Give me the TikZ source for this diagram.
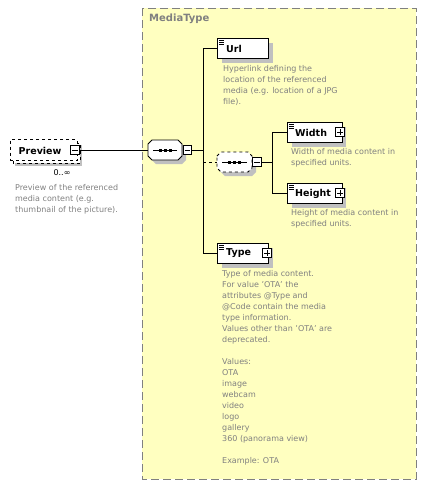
\documentclass[tikz,border=0pt]{standalone}
\usepackage{fontspec}
\setmainfont{DejaVu Sans}
\definecolor{boxyellow}{HTML}{FFFFC0}
\definecolor{boxborder}{HTML}{808080}
\definecolor{desccol}{HTML}{808080}
\definecolor{shadowc}{HTML}{C0C0C0}
\begin{document}
\begin{tikzpicture}[x=1pt,y=-1pt,
  elem/.style={draw=black, fill=white, minimum height=20pt, inner sep=0pt, line width=0.8pt},
  title/.style={font=\fontsize{9.5}{11}\selectfont\bfseries, text=black, inner sep=0pt, anchor=west},
  desc/.style={font=\fontsize{8}{11}\selectfont, text=desccol, align=left, anchor=north west, inner sep=0pt},
  pmbox/.style={draw=black, fill=white, minimum size=8.5pt, inner sep=0pt, line width=0.6pt},
  plusbox/.style={pmbox, path picture={
      \draw[line width=0.6pt] ([xshift=1.5pt]path picture bounding box.west) -- ([xshift=-1.5pt]path picture bounding box.east);
      \draw[line width=0.6pt] ([yshift=-1.5pt]path picture bounding box.north) -- ([yshift=1.5pt]path picture bounding box.south);}},
  minusbox/.style={pmbox, path picture={
      \draw[line width=0.6pt] ([xshift=1.5pt]path picture bounding box.west) -- ([xshift=-1.5pt]path picture bounding box.east);}},
  conn/.style={draw=black, line width=0.8pt},
  shad/.style={fill=shadowc},
  icon/.style={draw=black, line width=0.45pt}
]
\useasboundingbox (0,0) rectangle (427,485);

% MediaType complex type box
\draw[fill=boxyellow, draw=boxborder, line width=0.9pt, dash pattern=on 8pt off 4pt] (142,8) rectangle (416,479);
\node[font=\fontsize{10}{12}\selectfont\bfseries, text=boxborder, anchor=west, inner sep=0pt] (mtlabel) at (149,18.5) {MediaType};

% Preview element
\fill[shad] (15,145) rectangle (82,166);
\draw[black, line width=0.6pt, dashed, fill=white] (13,143) rectangle (80,163);
\node[elem, dashed, minimum width=67pt, minimum height=21pt, line width=0.6pt] (preview) at (43.5,150) {};
\node[title] (previewt) at (18.5,150.5) {Preview};
\node[minusbox] (pminus) at (75,150) {};
\node[font=\fontsize{8}{9}\selectfont, text=black, inner sep=0pt] (pocc) at (62,173) {0..∞};
\node[desc] (pdesc) at (15,184) {Preview of the referenced\\media content (e.g.\\thumbnail of the picture).};

% Sequence 1
\fill[shad] (152,148) -- (156,144) -- (182,144) -- (186,148) -- (186,160) -- (182,164) -- (156,164) -- (152,160) -- cycle;
\draw[fill=white, line width=0.8pt] (148,144) -- (152,140) -- (178,140) -- (182,144) -- (182,156) -- (178,160) -- (152,160) -- (148,156) -- cycle;
\node[inner sep=0pt, minimum width=34pt, minimum height=20pt] (seq1) at (165,150) {};
\draw[line width=0.6pt] (153,150) -- (177,150);
\foreach \xx in {160,165,170} \fill (\xx-1.5,148.5) rectangle (\xx+1.5,151.5);
\node[minusbox] (s1minus) at (187.5,150) {};

% Sequence 2 (optional)
\fill[shad] (221,160) -- (225,156) -- (252,156) -- (256,160) -- (256,172) -- (252,176) -- (225,176) -- (221,172) -- cycle;
\draw[fill=white, line width=0.8pt, dashed] (217,156) -- (221,152) -- (248,152) -- (252,156) -- (252,168) -- (248,172) -- (221,172) -- (217,168) -- cycle;
\node[inner sep=0pt, minimum width=35pt, minimum height=20pt] (seq2) at (234.5,162) {};
\draw[line width=0.6pt] (222,162) -- (247,162);
\foreach \xx in {229,234,239} \fill (\xx-1.5,160.5) rectangle (\xx+1.5,163.5);
\node[minusbox] (s2minus) at (257,162) {};

% Url
\fill[shad] (222,43) rectangle (273,63);
\node[elem, minimum width=51pt] (url) at (242.5,48) {};
\node[title] (urlt) at (226,48.5) {Url};
\draw[icon] (219,40) -- (224,40) (219,42) -- (224,42) (219,44) -- (224,44);
\node[desc] (urldesc) at (223,65) {Hyperlink defining the\\location of the referenced\\media (e.g. location of a JPG\\file).};

% Width
\fill[shad] (292,127) rectangle (346,147);
\node[elem, minimum width=55pt] (width) at (314.5,132) {};
\node[title] (widtht) at (295,132.5) {Width};
\draw[icon] (289,124) -- (294,124) (289,126) -- (294,126) (289,128) -- (294,128);
\node[plusbox] (wplus) at (340,132) {};
\node[desc] (wdesc) at (291,148) {Width of media content in\\specified units.};

% Height
\fill[shad] (292,188) rectangle (346,208);
\node[elem, minimum width=55pt] (height) at (314.5,193) {};
\node[title] (heightt) at (295,193.5) {Height};
\draw[icon] (289,185) -- (294,185) (289,187) -- (294,187) (289,189) -- (294,189);
\node[plusbox] (hplus) at (340,193) {};
\node[desc] (hdesc) at (291,209) {Height of media content in\\specified units.};

% Type
\fill[shad] (222,248) rectangle (273,268);
\node[elem, minimum width=51pt] (type) at (242.5,253) {};
\node[title] (typet) at (226,253.5) {Type};
\draw[icon] (219,245) -- (224,245) (219,247) -- (224,247) (219,249) -- (224,249);
\node[plusbox] (tplus) at (267,253) {};
\node[desc] (tdesc) at (222,270) {Type of media content.\\For value 'OTA' the\\attributes @Type and\\@Code contain the media\\type information.\\Values other than 'OTA' are\\deprecated.\\[11pt]Values:\\OTA\\image\\webcam\\video\\logo\\gallery\\360 (panorama view)\\[11pt]Example: OTA};

% Connectors
\coordinate (j1) at (203,150);
\coordinate (j1top) at (203,48);
\coordinate (j1bot) at (203,253);
\coordinate (j1mid) at (203,162);
\coordinate (j2) at (272,162);
\coordinate (j2top) at (272,132);
\coordinate (j2bot) at (272,193);
\draw[conn] (pminus.east) -- (seq1.west);
\draw[conn] (s1minus.east) -- (j1);
\draw[conn] (j1top) -- (j1bot);
\draw[conn] (j1top) -- (url.west);
\draw[conn] (j1bot) -- (type.west);
\draw[conn, dashed] (j1mid) -- (seq2.west);
\draw[conn] (s2minus.east) -- (j2);
\draw[conn] (j2top) -- (j2bot);
\draw[conn] (j2top) -- (width.west);
\draw[conn] (j2bot) -- (height.west);
\end{tikzpicture}
\end{document}
